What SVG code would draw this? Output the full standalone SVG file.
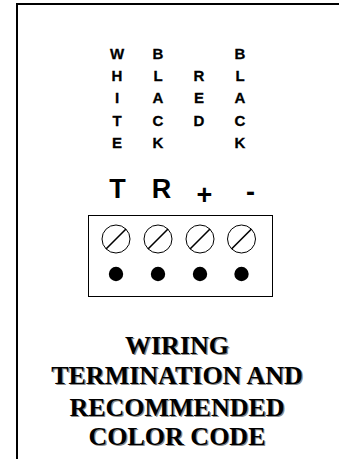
<svg xmlns="http://www.w3.org/2000/svg" width="339" height="459" viewBox="0 0 339 459">
<style>
.col{font-family:"Liberation Sans",Arial,sans-serif;font-weight:bold;font-size:15px;text-anchor:middle;fill:#000;stroke:#000;stroke-width:0.3}
.term{font-family:"Liberation Sans",Arial,sans-serif;font-weight:bold;font-size:27px;text-anchor:middle;fill:#000}
.title{font-family:"Liberation Serif","Times New Roman",serif;font-weight:bold;font-size:26px;text-anchor:middle}
.sh{fill:#8c8c8c}
.tx{fill:#000}
.screw{fill:none;stroke:#000;stroke-width:1}
.slot{stroke:#000;stroke-width:1.6}
</style>
<defs>
<g id="screw">
<circle class="screw" cx="0" cy="0" r="14"/>
<line class="slot" x1="-10" y1="10" x2="10" y2="-10"/>
</g>
</defs>
<path d="M17,459 V4 H339" fill="none" stroke="#000" stroke-width="2"/>
<g id="labels">
<text class="col" x="117" y="58.5">W</text>
<text class="col" x="117" y="81">H</text>
<text class="col" x="117" y="103">I</text>
<text class="col" x="117" y="125.5">T</text>
<text class="col" x="117" y="148">E</text>
<text class="col" x="158" y="58.5">B</text>
<text class="col" x="158" y="81">L</text>
<text class="col" x="158" y="103">A</text>
<text class="col" x="158" y="125.5">C</text>
<text class="col" x="158" y="148">K</text>
<text class="col" x="199" y="81">R</text>
<text class="col" x="199" y="103">E</text>
<text class="col" x="199" y="125.5">D</text>
<text class="col" x="240" y="58.5">B</text>
<text class="col" x="240" y="81">L</text>
<text class="col" x="240" y="103">A</text>
<text class="col" x="240" y="125.5">C</text>
<text class="col" x="240" y="148">K</text>
<text class="term" x="117.5" y="198">T</text>
<text class="term" x="161.5" y="198">R</text>
<text class="term" x="204.5" y="204">+</text>
<text class="term" x="250.5" y="201">-</text>
</g>
<g id="terminal-block">
<rect x="88.5" y="215.5" width="184" height="81" fill="none" stroke="#000" stroke-width="1"/>
<use href="#screw" x="116" y="239"/>
<use href="#screw" x="158" y="239"/>
<use href="#screw" x="200" y="239"/>
<use href="#screw" x="241.5" y="239"/>
<circle cx="116" cy="274" r="7.2"/>
<circle cx="158" cy="274" r="7.2"/>
<circle cx="200" cy="274" r="7.2"/>
<circle cx="241.5" cy="274" r="7.2"/>
</g>
<g id="connectors"></g>
<g id="title">
<g class="title sh" transform="translate(1.2,1.2)">
<text x="177" y="354">WIRING</text>
<text x="177" y="384">TERMINATION AND</text>
<text x="177" y="416">RECOMMENDED</text>
<text x="177" y="445">COLOR CODE</text>
</g>
<g class="title tx">
<text x="177" y="354">WIRING</text>
<text x="177" y="384">TERMINATION AND</text>
<text x="177" y="416">RECOMMENDED</text>
<text x="177" y="445">COLOR CODE</text>
</g>
</g>
</svg>
